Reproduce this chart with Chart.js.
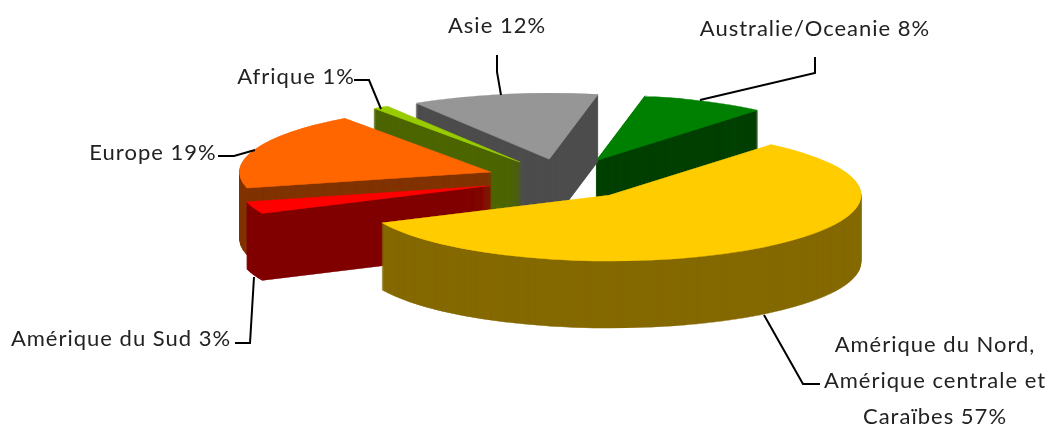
<!DOCTYPE html>
<html>
<head>
<meta charset="utf-8">
<style>
  html, body { margin: 0; background: #fff; }
  canvas { display: block; }
</style>
<script src="https://cdn.jsdelivr.net/npm/chart.js@4"></script>
</head>
<body>
<canvas id="pie" width="1050" height="426"></canvas>
<script>
const categories = [
  'Amérique du Nord, Amérique centrale et Caraïbes',
  'Amérique du Sud',
  'Europe',
  'Afrique',
  'Asie',
  'Australie/Oceanie'
];
const shares = [57, 3, 19, 1, 12, 8];

const topColors = ['#FFCC00', '#FF0000', '#FF6600', '#99CC00', '#969696', '#008000'];
const sideColors = ['#856900', '#800000', '#803300', '#4D6600', '#4D4D4D', '#004000'];

// back to front, so nearer slices cover the sides of the ones behind
const drawOrder = [5, 4, 3, 2, 1, 0];

const squash = 0.263;
const depth = 67;
const explode = 77;

const labelFont = '22px Lato, sans-serif';

// one entry per slice: text lines (x, y = centre of the line) and leader line
const callouts = [
  {
    lines: [['Amérique du Nord,', 935, 345], ['Amérique centrale et', 935, 381], ['Caraïbes', 935, 417]],
    leader: [[820, 384], [803, 384], [764, 315]]
  },
  { lines: [['Amérique du Sud', 121, 339]], leader: [[235, 343], [250, 343], [254, 277]] },
  { lines: [['Europe', 153, 153]], leader: [[218, 156], [234, 156], [255, 150]] },
  { lines: [['Afrique', 296, 77]], leader: [[354, 80], [369, 80], [381, 109]] },
  { lines: [['Asie', 497, 26]], leader: [[497, 55], [497, 72], [501, 95]] },
  { lines: [['Australie/Oceanie', 815, 29]], leader: [[815, 57], [815, 73], [700, 100]] }
];

function drawSlice(ctx, arc, shift, color) {
  const mid = (arc.startAngle + arc.endAngle) / 2;
  const saved = arc.options;
  // thin border in the same colour closes the antialiasing seams between layers
  arc.options = Object.assign({}, saved, {
    backgroundColor: color,
    borderColor: color,
    borderWidth: 1.2,
    borderJoinStyle: 'round'
  });
  ctx.save();
  ctx.translate(0, arc.y + shift);
  ctx.scale(1, squash);
  ctx.translate(0, -arc.y);
  ctx.translate(Math.cos(mid) * explode, Math.sin(mid) * explode);
  arc.draw(ctx);
  ctx.restore();
  arc.options = saved;
}

const pie3d = {
  id: 'pie3d',
  beforeDatasetsDraw(chart) {
    const ctx = chart.ctx;
    const arcs = chart.getDatasetMeta(0).data;
    drawOrder.forEach(i => {
      for (let d = depth; d > 0; d--) {
        drawSlice(ctx, arcs[i], d, sideColors[i]);
      }
      drawSlice(ctx, arcs[i], 0, topColors[i]);
    });
    return false;
  },
  afterDraw(chart) {
    const ctx = chart.ctx;
    ctx.save();
    ctx.strokeStyle = '#000';
    ctx.lineWidth = 2;
    ctx.fillStyle = '#222';
    ctx.font = labelFont;
    ctx.letterSpacing = '1px';
    ctx.textAlign = 'center';
    ctx.textBaseline = 'middle';
    callouts.forEach((c, i) => {
      ctx.beginPath();
      c.leader.forEach((p, j) => j ? ctx.lineTo(p[0], p[1]) : ctx.moveTo(p[0], p[1]));
      ctx.stroke();
      c.lines.forEach((l, j) => {
        const last = j === c.lines.length - 1;
        ctx.fillText(last ? l[0] + ' ' + shares[i] + '%' : l[0], l[1], l[2]);
      });
    });
    ctx.restore();
  }
};

new Chart(document.getElementById('pie'), {
  type: 'pie',
  data: {
    labels: categories,
    datasets: [{
      data: shares,
      backgroundColor: topColors,
      borderWidth: 0,
      radius: 251
    }]
  },
  options: {
    responsive: false,
    animation: false,
    rotation: 40,
    layout: { padding: { left: 76, bottom: 68 } },
    plugins: {
      legend: { display: false },
      tooltip: { enabled: false }
    }
  },
  plugins: [pie3d]
});
</script>
</body>
</html>
